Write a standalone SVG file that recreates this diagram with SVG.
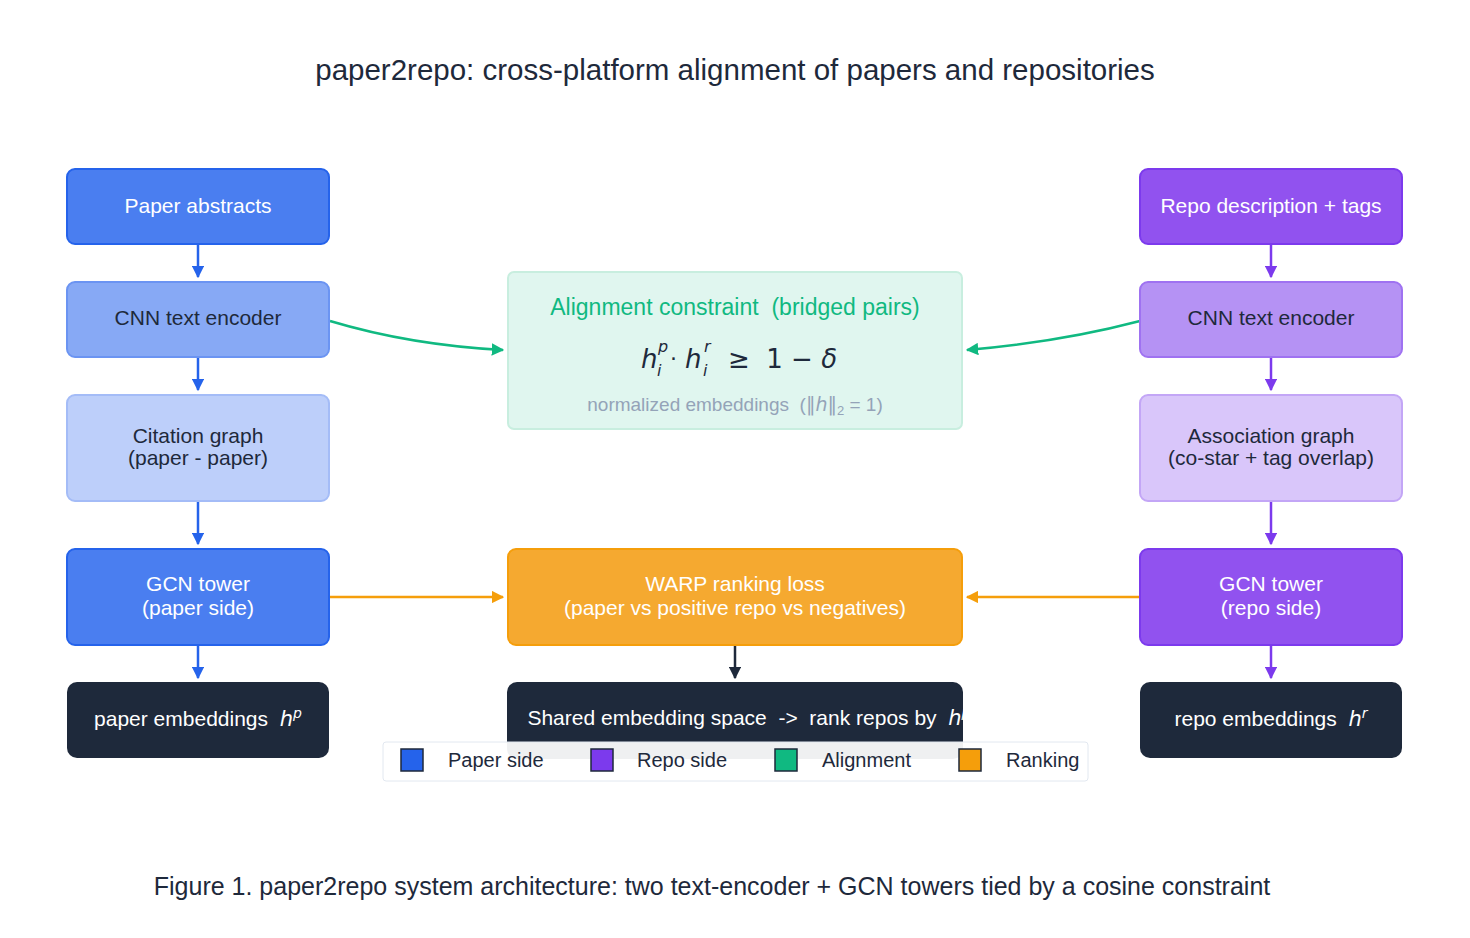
<svg xmlns="http://www.w3.org/2000/svg" width="1470" height="938" viewBox="0 0 1470 938" font-family="'Liberation Sans',Arial,sans-serif" font-size="21" text-anchor="middle">
<defs>
<style>
text{white-space:pre}
.w{fill:#ffffff}.d{fill:#1e293b}
.m{font-family:"DejaVu Sans",sans-serif;font-style:italic}
.lg{text-anchor:start;fill:#1e293b}
.mt{text-anchor:start;fill:#1e293b;font-family:"DejaVu Sans",sans-serif}
</style>
<marker id="ab" viewBox="0 0 10 10" refX="9" refY="5" markerWidth="5" markerHeight="5" orient="auto"><path d="M0,0L10,5L0,10z" fill="#2563eb"/></marker>
<marker id="ap" viewBox="0 0 10 10" refX="9" refY="5" markerWidth="5" markerHeight="5" orient="auto"><path d="M0,0L10,5L0,10z" fill="#7c3aed"/></marker>
<marker id="ag" viewBox="0 0 10 10" refX="9" refY="5" markerWidth="5" markerHeight="5" orient="auto"><path d="M0,0L10,5L0,10z" fill="#10b981"/></marker>
<marker id="ao" viewBox="0 0 10 10" refX="9" refY="5" markerWidth="5" markerHeight="5" orient="auto"><path d="M0,0L10,5L0,10z" fill="#f59e0b"/></marker>
<marker id="ak" viewBox="0 0 10 10" refX="9" refY="5" markerWidth="5" markerHeight="5" orient="auto"><path d="M0,0L10,5L0,10z" fill="#1e293b"/></marker>
<clipPath id="cl"><rect x="507" y="682" width="456" height="77" rx="10"/></clipPath>
</defs>
<rect width="1470" height="938" fill="#fff"/>
<text x="735" y="80" font-size="29.5" class="d">paper2repo: cross-platform alignment of papers and repositories</text>

<g id="connectors" fill="none" stroke-width="2.5">
<path d="M198,245V277" stroke="#2563eb" marker-end="url(#ab)"/>
<path d="M198,358V390" stroke="#2563eb" marker-end="url(#ab)"/>
<path d="M198,502V544" stroke="#2563eb" marker-end="url(#ab)"/>
<path d="M198,646V678" stroke="#2563eb" marker-end="url(#ab)"/>
<path d="M1271,245V277" stroke="#7c3aed" marker-end="url(#ap)"/>
<path d="M1271,358V390" stroke="#7c3aed" marker-end="url(#ap)"/>
<path d="M1271,502V544" stroke="#7c3aed" marker-end="url(#ap)"/>
<path d="M1271,646V678" stroke="#7c3aed" marker-end="url(#ap)"/>
<path d="M330,321Q410,345 503,350" stroke="#10b981" marker-end="url(#ag)"/>
<path d="M1140,321Q1060,342 967,350" stroke="#10b981" marker-end="url(#ag)"/>
<path d="M330,597H503" stroke="#f59e0b" marker-end="url(#ao)"/>
<path d="M1140,597H967" stroke="#f59e0b" marker-end="url(#ao)"/>
<path d="M735,646V678" stroke="#1e293b" marker-end="url(#ak)"/>
</g>

<g id="n1"><rect x="67" y="169" width="262" height="75" rx="8" fill="#4a7ef0" stroke="#2563eb" stroke-width="2"/><text x="198" y="213" class="w">Paper abstracts</text></g>
<g id="n2"><rect x="67" y="282" width="262" height="75" rx="8" fill="#87a9f5" stroke="#6b94f2" stroke-width="2"/><text x="198" y="325" class="d">CNN text encoder</text></g>
<g id="n3"><rect x="67" y="395" width="262" height="106" rx="8" fill="#bdcffa" stroke="#a4bcf7" stroke-width="2"/><text x="198" y="443" class="d">Citation graph</text><text x="198" y="465" class="d">(paper - paper)</text></g>
<g id="n4"><rect x="67" y="549" width="262" height="96" rx="8" fill="#4a7ef0" stroke="#2563eb" stroke-width="2"/><text x="198" y="591" class="w">GCN tower</text><text x="198" y="615" class="w">(paper side)</text></g>
<g id="n5"><rect x="67" y="682" width="262" height="76" rx="10" fill="#1e293b"/><text x="198" y="726" class="w">paper embeddings  <tspan class="m">h</tspan><tspan class="m" font-size="14" dy="-8">p</tspan></text></g>

<g id="r1"><rect x="1140" y="169" width="262" height="75" rx="8" fill="#9152ef" stroke="#7c3aed" stroke-width="2"/><text x="1271" y="213" class="w">Repo description + tags</text></g>
<g id="r2"><rect x="1140" y="282" width="262" height="75" rx="8" fill="#b592f4" stroke="#9f72f1" stroke-width="2"/><text x="1271" y="325" class="d">CNN text encoder</text></g>
<g id="r3"><rect x="1140" y="395" width="262" height="106" rx="8" fill="#d9c6fa" stroke="#c3a6f6" stroke-width="2"/><text x="1271" y="443" class="d">Association graph</text><text x="1271" y="465" class="d">(co-star + tag overlap)</text></g>
<g id="r4"><rect x="1140" y="549" width="262" height="96" rx="8" fill="#9152ef" stroke="#7c3aed" stroke-width="2"/><text x="1271" y="591" class="w">GCN tower</text><text x="1271" y="615" class="w">(repo side)</text></g>
<g id="r5"><rect x="1140" y="682" width="262" height="76" rx="10" fill="#1e293b"/><text x="1271" y="726" class="w">repo embeddings  <tspan class="m">h</tspan><tspan class="m" font-size="14" dy="-8">r</tspan></text></g>

<g id="align"><rect x="508" y="272" width="454" height="157" rx="6" fill="#e0f6ef" stroke="#c8eedf" stroke-width="2"/>
<text x="735" y="315" fill="#10b981" font-size="23">Alignment constraint  (bridged pairs)</text>
<text x="641" y="368" class="mt m" font-size="26">h</text>
<text x="658" y="352" class="mt m" font-size="16">p</text>
<text x="657" y="376" class="mt m" font-size="16">i</text>
<text x="670" y="366" class="mt" font-size="22">·</text>
<text x="685" y="368" class="mt m" font-size="26">h</text>
<text x="704" y="352" class="mt m" font-size="16">r</text>
<text x="703" y="376" class="mt m" font-size="16">i</text>
<text x="728" y="368" class="mt" font-size="26">≥  1 − <tspan class="m">δ</tspan></text>
<text x="735" y="411" fill="#94a3b8" font-size="19">normalized embeddings  (<tspan font-family="'DejaVu Sans',sans-serif">‖</tspan><tspan class="m">h</tspan><tspan font-family="'DejaVu Sans',sans-serif">‖</tspan><tspan font-size="13" dy="4">2</tspan><tspan dy="-4"> = 1)</tspan></text></g>

<g id="warp"><rect x="508" y="549" width="454" height="96" rx="8" fill="#f5a930" stroke="#f59e0b" stroke-width="2"/><text x="735" y="591" class="w">WARP ranking loss</text><text x="735" y="615" class="w">(paper vs positive repo vs negatives)</text></g>

<g id="shared"><rect x="507" y="682" width="456" height="77" rx="10" fill="#1e293b"/>
<text x="762" y="725" class="w" clip-path="url(#cl)">Shared embedding space  -&gt;  rank repos by  <tspan class="m">h</tspan><tspan class="m" font-size="14" dy="-8">p</tspan><tspan dy="8">·</tspan><tspan class="m">h</tspan><tspan class="m" font-size="14" dy="-8">r</tspan></text></g>

<g id="legend"><rect x="383" y="742" width="705" height="39" rx="3" fill="#ffffff" fill-opacity="0.93" stroke="#e2e8f0"/>
<rect x="401" y="749" width="22" height="22" fill="#2563eb" stroke="#1e293b" stroke-width="1.5"/><text x="448" y="767" class="lg" font-size="20">Paper side</text>
<rect x="591" y="749" width="22" height="22" fill="#7c3aed" stroke="#1e293b" stroke-width="1.5"/><text x="637" y="767" class="lg" font-size="20">Repo side</text>
<rect x="775" y="749" width="22" height="22" fill="#10b981" stroke="#1e293b" stroke-width="1.5"/><text x="822" y="767" class="lg" font-size="20">Alignment</text>
<rect x="959" y="749" width="22" height="22" fill="#f59e0b" stroke="#1e293b" stroke-width="1.5"/><text x="1006" y="767" class="lg" font-size="20">Ranking</text></g>

<text x="712" y="895" class="d" font-size="25">Figure 1. paper2repo system architecture: two text-encoder + GCN towers tied by a cosine constraint</text>
</svg>
